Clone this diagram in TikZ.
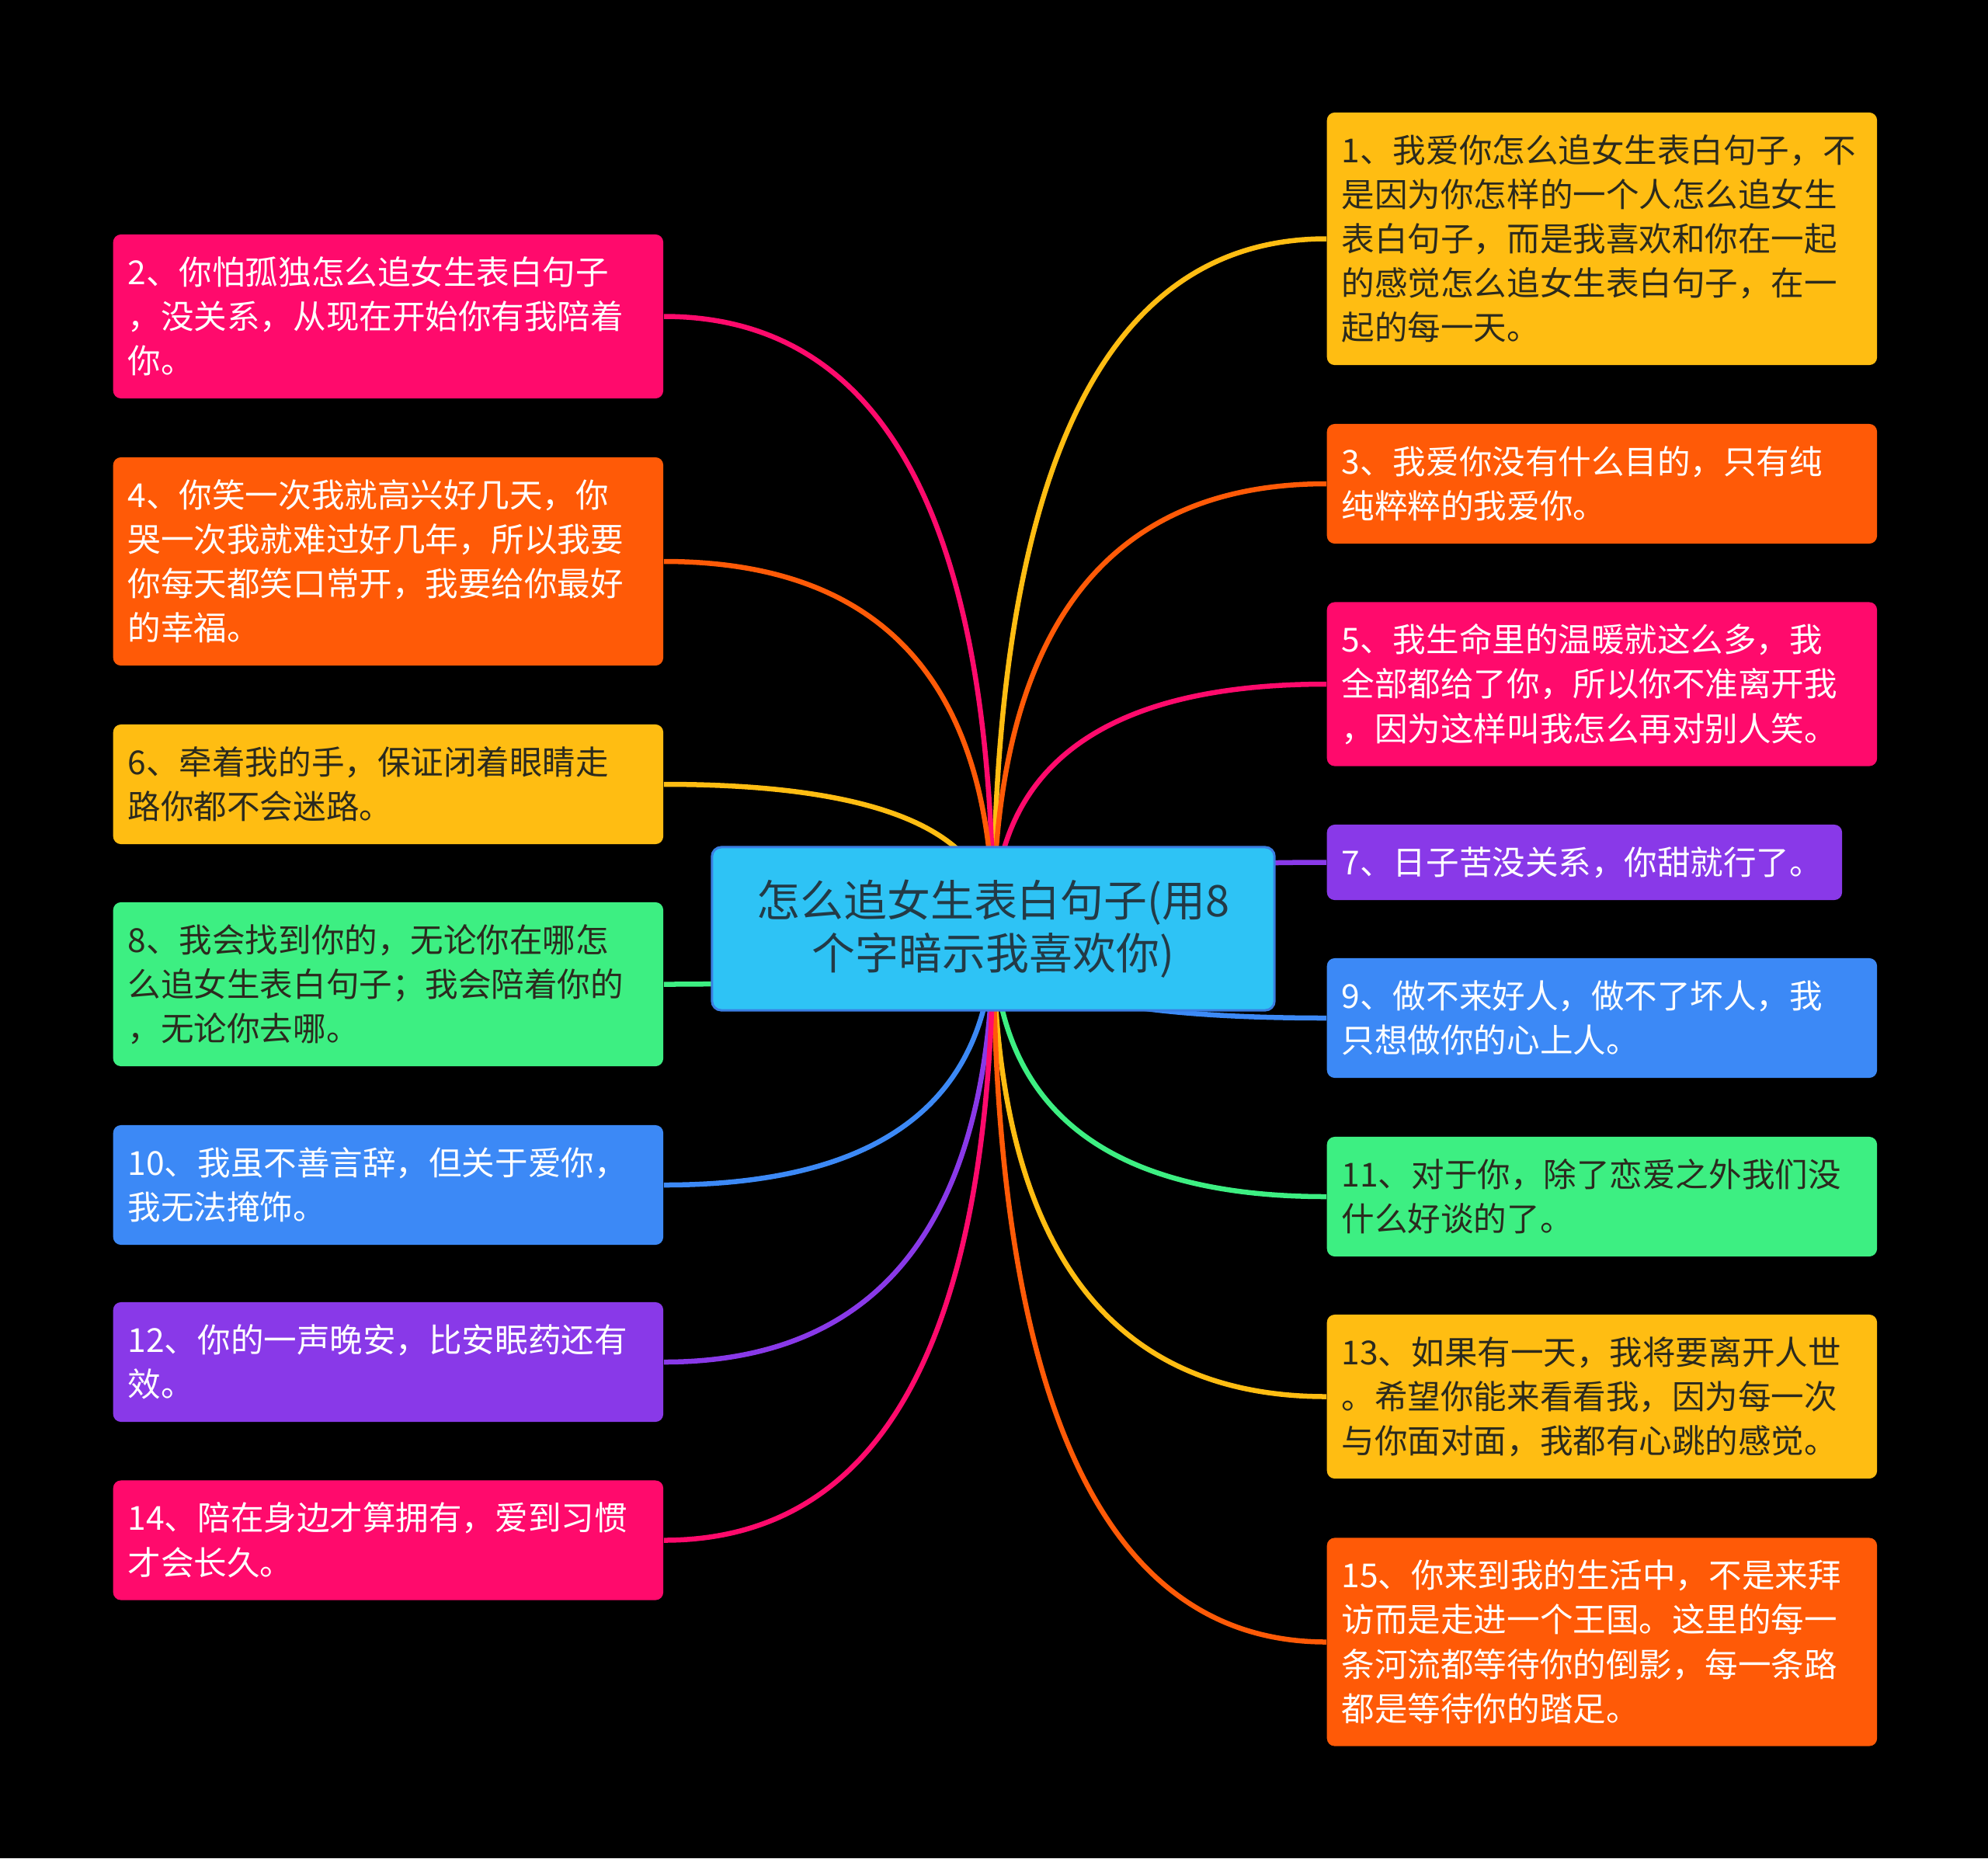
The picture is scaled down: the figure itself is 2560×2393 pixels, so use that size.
\documentclass[tikz,border=0pt]{standalone}
\usepackage{fontspec}
\setmainfont{Noto Sans CJK SC}
\usetikzlibrary{calc, backgrounds}

\definecolor{cpink}{HTML}{FF0A6C}
\definecolor{corange}{HTML}{FF5A07}
\definecolor{cyellow}{HTML}{FFBD12}
\definecolor{cgreen}{HTML}{3DEF82}
\definecolor{cblue}{HTML}{3C89F6}
\definecolor{cpurple}{HTML}{8939E8}
\definecolor{croot}{HTML}{2EC3F5}
\definecolor{crootline}{HTML}{3A7FE3}
\definecolor{darktext}{HTML}{2B2A1E}
\definecolor{roottext}{HTML}{233A46}

\newcommand\leaffont{\fontsize{12.1pt}{16.22pt}\selectfont}
\newcommand\rootfont{\fontsize{15.9pt}{20.8pt}\selectfont}
\newcommand\leafstrut{\rule[-0.22\baselineskip]{0pt}{\baselineskip}}

\tikzset{
  leaf/.style={rounded corners=0.1cm, inner xsep=0.19cm, inner ysep=0.2cm,
    text width=6.7cm, align=left, anchor=west, font=\leaffont,
    execute at begin node=\leafstrut, execute at end node=\leafstrut},
  rootbox/.style={rounded corners=0.12cm, fill=croot, draw=crootline,
    line width=0.03cm, text=roottext, font=\rootfont, inner sep=0pt,
    text width=7.24cm, minimum height=2.1cm, align=center},
  branch/.style={line width=0.065cm}
}

\begin{document}
\begin{tikzpicture}[x=0.01cm, y=-0.01cm]
  \useasboundingbox (0,0) rectangle (2560,2393);
  % central topic
  \node[rootbox] (root) at (1279,1196) {\raisebox{-0.05cm}{怎么追女生表白句子(用8}\\个字暗示我喜欢你)};
  % left column
  \node[leaf, fill=cpink, text=white] (n2) at (145,407.5) {2、你怕孤独怎么追女生表白句子\\
    ，没关系，从现在开始你有我陪着\\
    你。};
  \node[leaf, fill=corange, text=white] (n4) at (145,723) {4、你笑一次我就高兴好几天，你\\
    哭一次我就难过好几年，所以我要\\
    你每天都笑口常开，我要给你最好\\
    的幸福。};
  \node[leaf, fill=cyellow, text=darktext] (n6) at (145,1010) {6、牵着我的手，保证闭着眼睛走\\
    路你都不会迷路。};
  \node[leaf, fill=cgreen, text=darktext] (n8) at (145,1267.5) {8、我会找到你的，无论你在哪怎\\
    么追女生表白句子；我会陪着你的\\
    ，无论你去哪。};
  \node[leaf, fill=cblue, text=white] (n10) at (145,1526) {10、我虽不善言辞，但关于爱你，\\
    我无法掩饰。};
  \node[leaf, fill=cpurple, text=white] (n12) at (145,1754) {12、你的一声晚安，比安眠药还有\\
    效。};
  \node[leaf, fill=cpink, text=white] (n14) at (145,1983.5) {14、陪在身边才算拥有，爱到习惯\\
    才会长久。};
  % right column
  \node[leaf, fill=cyellow, text=darktext] (n1) at (1708,307.5) {1、我爱你怎么追女生表白句子，不\\
    是因为你怎样的一个人怎么追女生\\
    表白句子，而是我喜欢和你在一起\\
    的感觉怎么追女生表白句子，在一\\
    起的每一天。};
  \node[leaf, fill=corange, text=white] (n3) at (1708,623) {3、我爱你没有什么目的，只有纯\\
    纯粹粹的我爱你。};
  \node[leaf, fill=cpink, text=white] (n5) at (1708,881) {5、我生命里的温暖就这么多，我\\
    全部都给了你，所以你不准离开我\\
    ，因为这样叫我怎么再对别人笑。};
  \node[leaf, fill=cpurple, text=white, text width=6.25cm] (n7) at (1708,1110.5) {7、日子苦没关系，你甜就行了。};
  \node[leaf, fill=cblue, text=white] (n9) at (1708,1311) {9、做不来好人，做不了坏人，我\\
    只想做你的心上人。};
  \node[leaf, fill=cgreen, text=darktext] (n11) at (1708,1541) {11、对于你，除了恋爱之外我们没\\
    什么好谈的了。};
  \node[leaf, fill=cyellow, text=darktext] (n13) at (1708,1798.5) {13、如果有一天，我将要离开人世\\
    。希望你能来看看我，因为每一次\\
    与你面对面，我都有心跳的感觉。};
  \node[leaf, fill=corange, text=white] (n15) at (1708,2114.5) {15、你来到我的生活中，不是来拜\\
    访而是走进一个王国。这里的每一\\
    条河流都等待你的倒影，每一条路\\
    都是等待你的踏足。};
  % background and branches
  \begin{scope}[on background layer]
    \fill[black] (0,0) rectangle (2560,2393);
    \foreach \n/\c/\s in {n1/cyellow/west, n3/corange/west, n5/cpink/west,
        n7/cpurple/west, n9/cblue/west, n11/cgreen/west, n13/cyellow/west,
        n15/corange/west, n2/cpink/east, n4/corange/east, n6/cyellow/east,
        n8/cgreen/east, n10/cblue/east, n12/cpurple/east, n14/cpink/east} {
      \draw[branch, draw=\c] (root.center)
        .. controls ($(root.center)!2/3!(root.center |- \n.\s)$)
        and ($(\n.\s)!2/3!(root.center |- \n.\s)$) .. (\n.\s);
    }
  \end{scope}
\end{tikzpicture}
\end{document}
